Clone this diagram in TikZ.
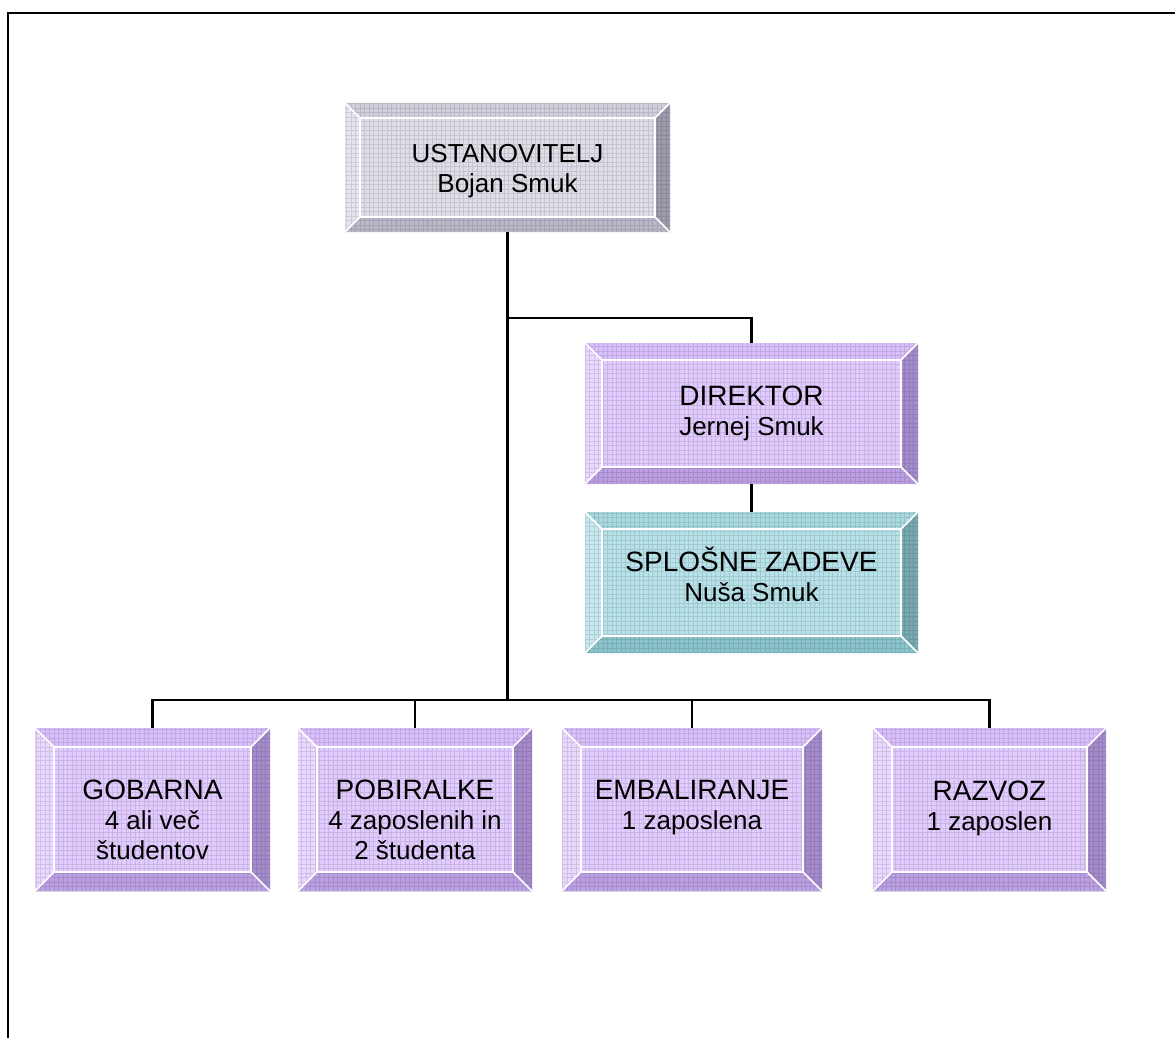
\documentclass[tikz,border=0pt]{standalone}
\usepackage{fontspec}
\setmainfont{Liberation Sans}
% palettes
\definecolor{gryface}{HTML}{DEDEE8}
\definecolor{grytop}{HTML}{D0D0DC}
\definecolor{gryleft}{HTML}{E6E6EE}
\definecolor{gryright}{HTML}{9C9CAC}
\definecolor{grybot}{HTML}{B8B8C8}
\definecolor{purface}{HTML}{E2CCFF}
\definecolor{purtop}{HTML}{D8BEFA}
\definecolor{purleft}{HTML}{E9D8FF}
\definecolor{purright}{HTML}{A48CCC}
\definecolor{purbot}{HTML}{BCA0E4}
\definecolor{tealface}{HTML}{B8E2EA}
\definecolor{tealtop}{HTML}{A8D8E0}
\definecolor{tealleft}{HTML}{C6E9EF}
\definecolor{tealright}{HTML}{78AAB2}
\definecolor{tealbot}{HTML}{8CC4CC}
\tikzset{
  gridline/.style={draw=black, opacity=0.11, line width=0.9pt},
  bevelline/.style={draw=white, line width=1.5pt},
  boxshape/.style={rectangle, inner sep=0pt, outer sep=0pt},
  boxtext/.style={align=center, inner sep=0pt, font=\fontsize{26}{30}\selectfont},
  link/.style={draw=black, line width=2.3pt},
  frameline/.style={draw=black, line width=2.5pt},
}
\newcommand{\ttl}[1]{{\fontsize{28}{30}\selectfont #1}}
% #1 name, #2 x1, #3 y1, #4 x2, #5 y2, #6 bevel, #7 palette, #8 text centre y, #9 text
\newcommand{\bevbox}[9]{%
  \fill[#7face] (#2,#3) rectangle (#4,#5);
  \fill[#7top] (#2,#3) -- (#4,#3) -- ({#4-#6},{#3+#6}) -- ({#2+#6},{#3+#6}) -- cycle;
  \fill[#7left] (#2,#3) -- ({#2+#6},{#3+#6}) -- ({#2+#6},{#5-#6}) -- (#2,#5) -- cycle;
  \fill[#7right] (#4,#3) -- (#4,#5) -- ({#4-#6},{#5-#6}) -- ({#4-#6},{#3+#6}) -- cycle;
  \fill[#7bot] (#2,#5) -- (#4,#5) -- ({#4-#6},{#5-#6}) -- ({#2+#6},{#5-#6}) -- cycle;
  \begin{scope}
    \clip (#2,#3) rectangle (#4,#5);
    \draw[gridline, step=4.5pt] (#2,#5) grid (#4,#3);
  \end{scope}
  \draw[bevelline] ({#2+#6},{#3+#6}) rectangle ({#4-#6},{#5-#6});
  \draw[bevelline] (#2,#3) -- ({#2+#6},{#3+#6});
  \draw[bevelline] (#4,#3) -- ({#4-#6},{#3+#6});
  \draw[bevelline] (#2,#5) -- ({#2+#6},{#5-#6});
  \draw[bevelline] (#4,#5) -- ({#4-#6},{#5-#6});
  \node[boxshape, minimum width={#4-#2}, minimum height={#5-#3}] (#1) at ({(#2+#4)/2},{(#3+#5)/2}) {};
  \node[boxtext] (#1-t) at ({(#2+#4)/2},#8) {#9};
}
\begin{document}
\begin{tikzpicture}[x=1pt,y=-1pt]
\useasboundingbox[fill=white] (0,0) rectangle (1175,1038);
\draw[frameline] (8,1038) -- (8,13) -- (1175,13);

\bevbox{ust}{345}{103}{670}{232}{15}{gry}{171.5}{USTANOVITELJ\\Bojan Smuk}
\bevbox{dir}{585}{343}{918}{484}{17}{pur}{413}{\ttl{DIREKTOR}\\Jernej Smuk}
\bevbox{spl}{585}{512}{918}{653}{17}{teal}{574}{\ttl{SPLOŠNE ZADEVE}\\Nuša Smuk}
\bevbox{gob}{35}{728}{270}{891}{19}{pur}{820}{\ttl{GOBARNA}\\4 ali več\\študentov}
\bevbox{pob}{298}{728}{532}{891}{19}{pur}{820}{\ttl{POBIRALKE}\\4 zaposlenih in\\2 študenta}
\bevbox{emb}{562}{728}{822}{891}{19}{pur}{808}{\ttl{EMBALIRANJE}\\1 zaposlena}
\bevbox{raz}{873}{728}{1106}{891}{19}{pur}{808}{\ttl{RAZVOZ}\\1 zaposlen}

\coordinate (bus) at (507.5,700);
\coordinate (mid) at (507.5,318);
\draw[link] (ust.south) -- (bus);
\draw[link] (mid) -| (dir.north);
\draw[link] (dir.south) -- (spl.north);
\draw[link] (gob.north) -- (gob.north |- bus) -- (raz.north |- bus) -- (raz.north);
\draw[link] (pob.north) -- (pob.north |- bus);
\draw[link] (emb.north) -- (emb.north |- bus);
\end{tikzpicture}
\end{document}
